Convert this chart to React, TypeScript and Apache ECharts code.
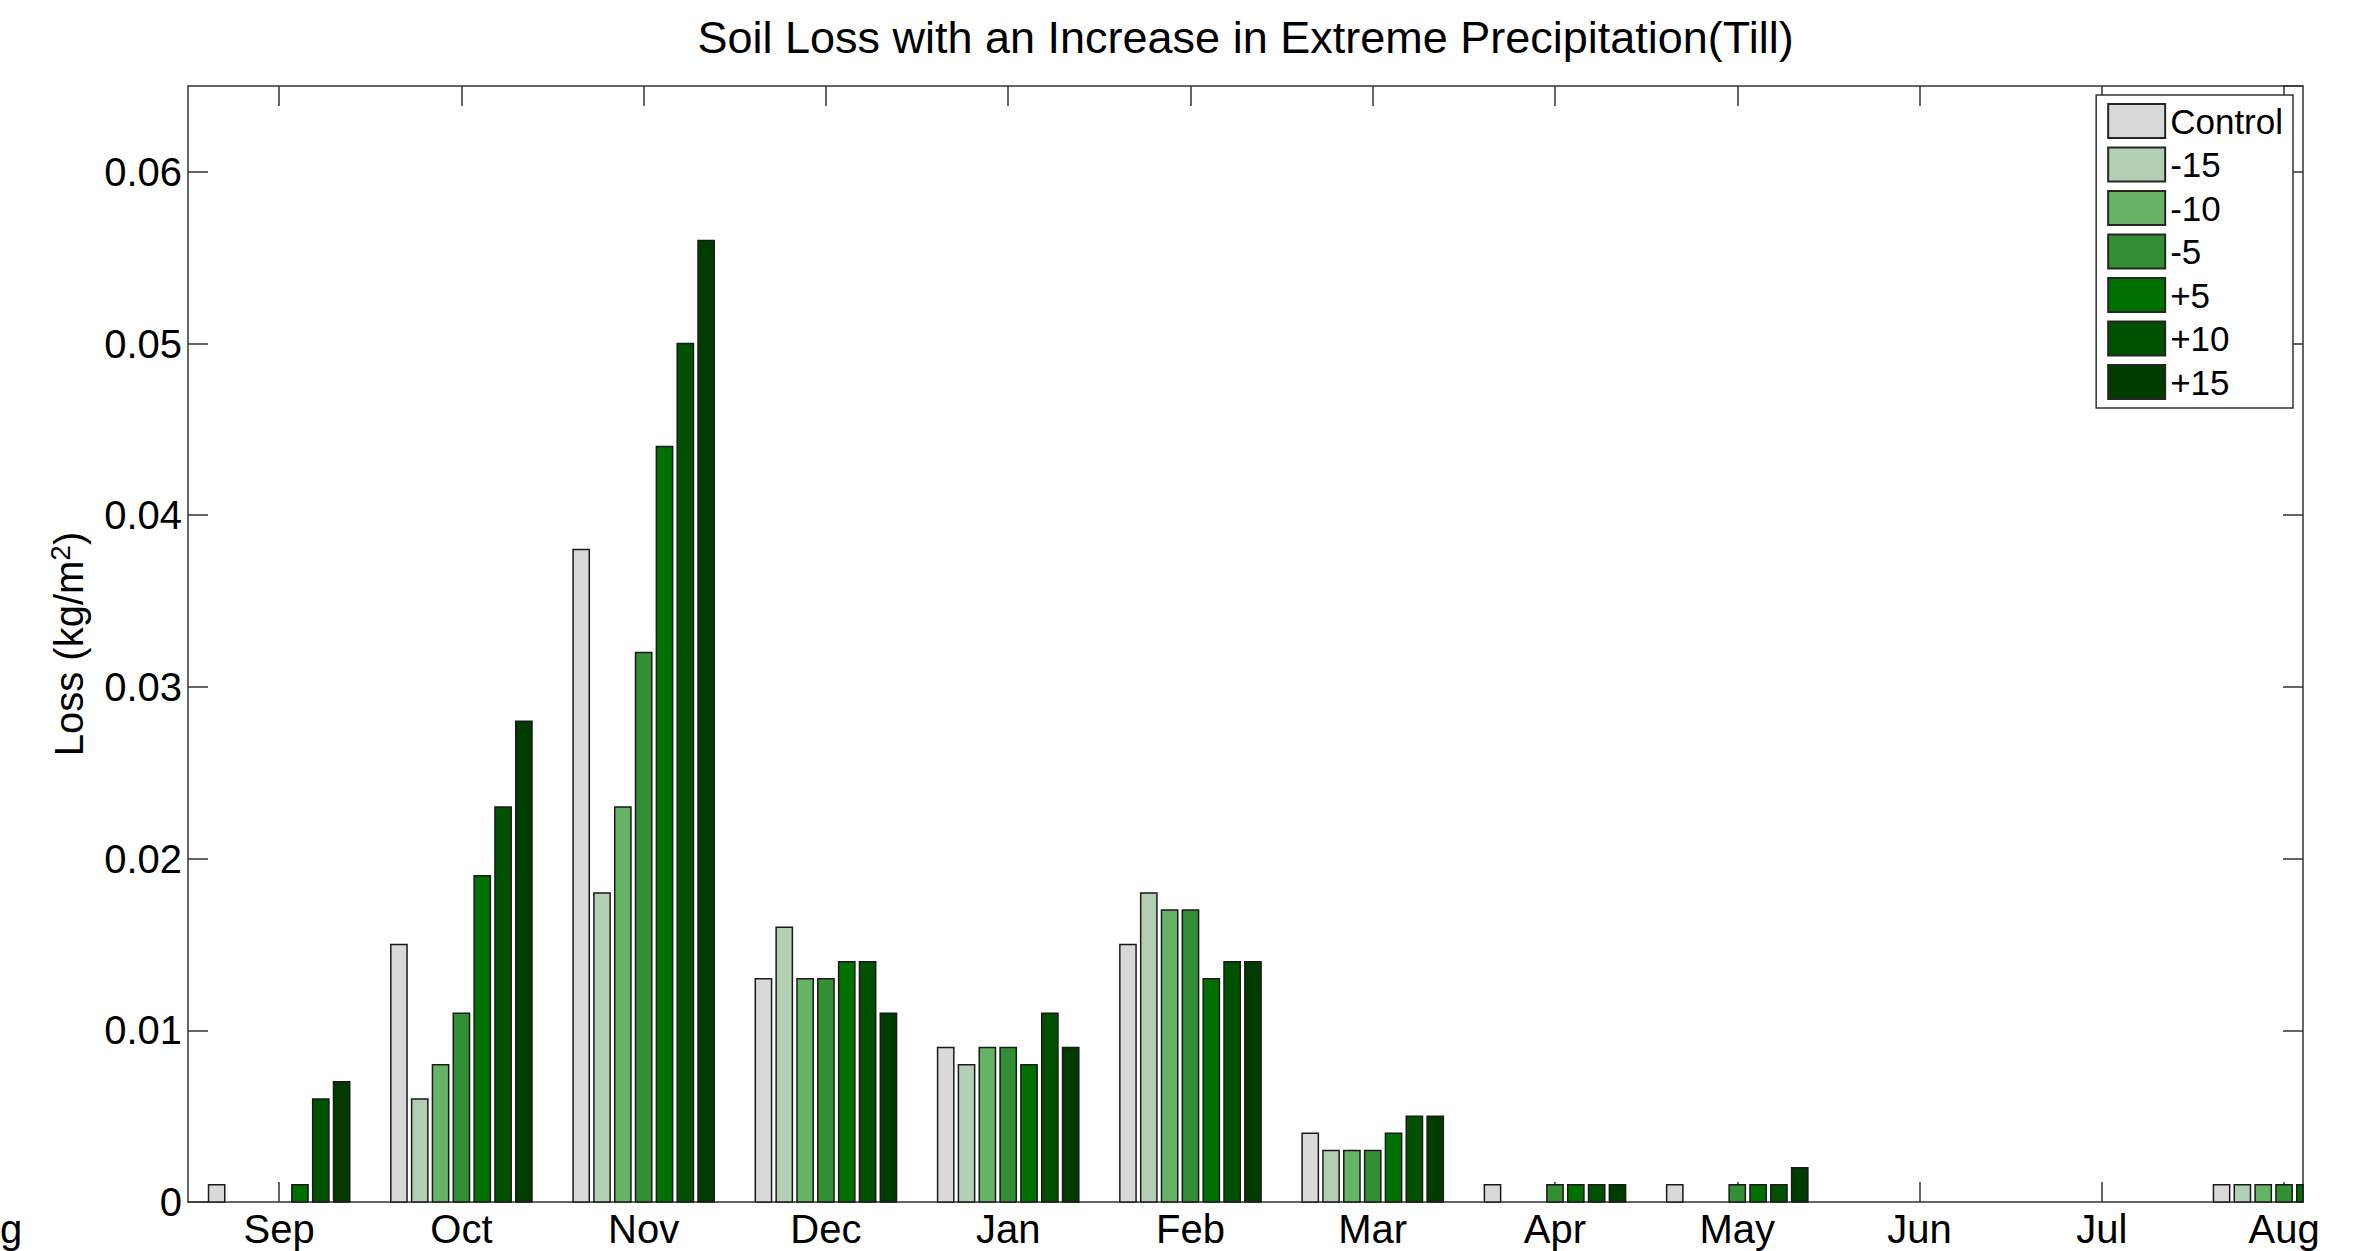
import React, { useEffect, useRef } from "react";
import * as echarts from "echarts";

// Month labels for the water year, Sep → Aug (axis positions 1..12)
const months = ["Sep", "Oct", "Nov", "Dec", "Jan", "Feb", "Mar", "Apr", "May", "Jun", "Jul", "Aug"];
const monthPositions = [1, 2, 3, 4, 5, 6, 7, 8, 9, 10, 11, 12];

// Scenario names and their fill colours
const scenarios = ["Control", "-15", "-10", "-5", "+5", "+10", "+15"];
const scenarioColors = ["#d9d9d9", "#b3cfb3", "#66b366", "#338f33", "#007000", "#005200", "#003b00"];

// Monthly soil loss (kg/m^2) per scenario
const control = [0.001, 0.015, 0.038, 0.013, 0.009, 0.015, 0.004, 0.001, 0.001, 0, 0, 0.001];
const minus15 = [0, 0.006, 0.018, 0.016, 0.008, 0.018, 0.003, 0, 0, 0, 0, 0.001];
const minus10 = [0, 0.008, 0.023, 0.013, 0.009, 0.017, 0.003, 0, 0, 0, 0, 0.001];
const minus5 = [0, 0.011, 0.032, 0.013, 0.009, 0.017, 0.003, 0.001, 0.001, 0, 0, 0.001];
const plus5 = [0.001, 0.019, 0.044, 0.014, 0.008, 0.013, 0.004, 0.001, 0.001, 0, 0, 0.001];
const plus10 = [0.006, 0.023, 0.05, 0.014, 0.011, 0.014, 0.005, 0.001, 0.001, 0, 0, 0.001];
const plus15 = [0.007, 0.028, 0.056, 0.011, 0.009, 0.014, 0.005, 0.001, 0.002, 0, 0, 0.001];

const seriesValues = [control, minus15, minus10, minus5, plus5, plus10, plus15];

// Y axis ticks
const yMax = 0.065;
const yInterval = 0.01;

const FONT = "'Liberation Sans', Arial, sans-serif";
const FRAME = "#333333";

// grouped-bar geometry in axis units
const GROUP_WIDTH = 0.8;
const BAR_FILL = 0.78;

export default function App() {
  const ref = useRef<HTMLDivElement>(null);

  useEffect(() => {
    document.body.style.margin = "0";
    if (!ref.current) return;
    const chart = echarts.init(ref.current, null, { renderer: "svg" });
    const nSeries = scenarios.length;
    const pitch = GROUP_WIDTH / nSeries;

    const series = scenarios.map((name, s) => ({
      name,
      type: "custom",
      itemStyle: { color: scenarioColors[s], borderColor: "#1a1a1a", borderWidth: 1.5 },
      encode: { x: 0, y: 1 },
      data: monthPositions.map((m, i) => [m, seriesValues[s][i]]),
      renderItem: (params: any, api: any) => {
        const x = api.value(0);
        const y = api.value(1);
        if (!y) return null;
        const center = x + (s - (nSeries - 1) / 2) * pitch;
        const half = (pitch * BAR_FILL) / 2;
        const p0 = api.coord([center - half, y]);
        const p1 = api.coord([center + half, 0]);
        const cs = params.coordSys;
        const right = Math.min(p1[0], cs.x + cs.width);
        if (right <= p0[0]) return null;
        return {
          type: "rect",
          shape: { x: p0[0], y: p0[1], width: right - p0[0], height: p1[1] - p0[1] },
          style: { fill: scenarioColors[s], stroke: "#1a1a1a", lineWidth: 1.5 },
        };
      },
    }));

    const tickStyle = { color: FRAME, width: 1.5 };

    chart.setOption({
      animation: false,
      backgroundColor: "#ffffff",
      textStyle: { fontFamily: FONT },
      grid: { left: 188, right: 65, top: 86, bottom: 49, containLabel: false },
      legend: {
        orient: "vertical",
        right: 75,
        top: 95,
        padding: [8, 10, 8, 11],
        itemWidth: 57,
        itemHeight: 34,
        itemGap: 7.5,
        icon: "rect",
        selectedMode: false,
        backgroundColor: "#ffffff",
        borderColor: FRAME,
        borderWidth: 1.5,
        borderRadius: 0,
        textStyle: { fontFamily: FONT, fontSize: 35, color: "#000" },
        data: scenarios.map((name, s) => ({
          name,
          itemStyle: { color: scenarioColors[s], borderColor: "#262626", borderWidth: 2 },
        })),
        z: 10,
      },
      xAxis: [
        {
          type: "value",
          position: "bottom",
          min: 0.5,
          max: 12.104,
          splitLine: { show: false },
          axisLine: { show: true, onZero: false, lineStyle: tickStyle },
          axisTick: { show: true, inside: true, length: 20, customValues: monthPositions, lineStyle: tickStyle },
          axisLabel: {
            show: true,
            customValues: monthPositions,
            margin: 7,
            fontSize: 40,
            fontFamily: FONT,
            color: "#000",
            formatter: (v: number) => months[Math.round(v) - 1] ?? "",
          },
        },
        {
          type: "value",
          position: "top",
          min: 0.5,
          max: 12.104,
          splitLine: { show: false },
          axisLine: { show: true, onZero: false, lineStyle: tickStyle },
          axisTick: { show: true, inside: true, length: 20, customValues: monthPositions, lineStyle: tickStyle },
          axisLabel: { show: false, customValues: monthPositions },
        },
      ],
      yAxis: [
        {
          type: "value",
          position: "left",
          min: 0,
          max: yMax,
          interval: yInterval,
          splitLine: { show: false },
          axisLine: { show: true, onZero: false, lineStyle: tickStyle },
          axisTick: { show: true, inside: true, length: 20, lineStyle: tickStyle },
          axisLabel: {
            margin: 6,
            fontSize: 40,
            fontFamily: FONT,
            color: "#000",
            showMaxLabel: false,
            formatter: (v: number) => (v === 0 ? "0" : v.toFixed(2)),
          },
        },
        {
          type: "value",
          position: "right",
          min: 0,
          max: yMax,
          interval: yInterval,
          splitLine: { show: false },
          axisLine: { show: true, onZero: false, lineStyle: tickStyle },
          axisTick: { show: true, inside: true, length: 20, lineStyle: tickStyle },
          axisLabel: { show: false },
        },
      ],
      graphic: [
        {
          type: "text",
          x: 1245.5,
          y: 37,
          style: {
            text: "Soil Loss with an Increase in Extreme Precipitation(Till)",
            fontFamily: FONT,
            fontSize: 45,
            fill: "#000",
            align: "center",
            verticalAlign: "middle",
          },
        },
        {
          type: "text",
          x: 69,
          y: 644,
          rotation: Math.PI / 2,
          style: {
            text: "{a|Loss (kg/m}{s|2}{a|)}",
            fill: "#000",
            align: "center",
            verticalAlign: "middle",
            rich: {
              a: { fontFamily: FONT, fontSize: 40, lineHeight: 46, fill: "#000" },
              s: { fontFamily: FONT, fontSize: 28, lineHeight: 20, verticalAlign: "top", fill: "#000" },
            },
          },
        },
        {
          // tail of the preceding month's label at the left edge
          type: "text",
          x: 0,
          y: 1229,
          style: {
            text: "g",
            fontFamily: FONT,
            fontSize: 40,
            fill: "#000",
            align: "left",
            verticalAlign: "middle",
          },
        },
      ],
      series,
    });

    return () => chart.dispose();
  }, []);

  return <div ref={ref} style={{ width: 2368, height: 1251 }} />;
}
